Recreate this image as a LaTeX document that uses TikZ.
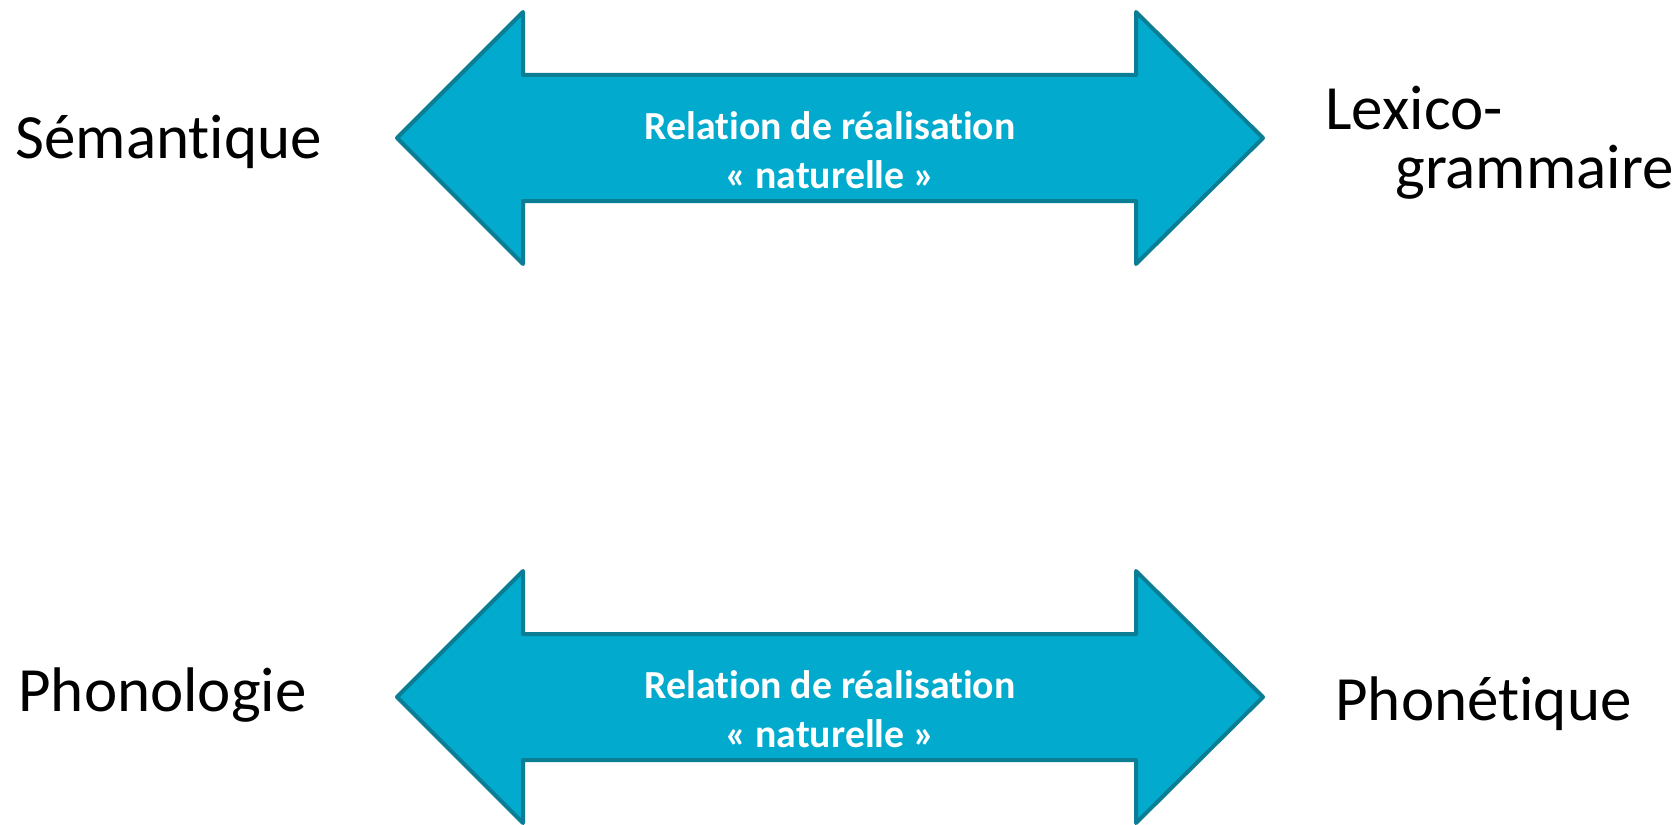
\documentclass[tikz,border=0pt]{standalone}
\usepackage{fontspec}
\setmainfont{Carlito}[Ligatures=NoCommon]
\usetikzlibrary{positioning}
\definecolor{arrow-fill}{HTML}{02ABCD}
\definecolor{arrow-edge}{HTML}{0B7E95}
\tikzset{
  relation-arrow/.style={fill=arrow-fill, draw=arrow-edge, line width=2pt, line join=round},
  relation-text/.style={align=center, anchor=base, text=white, font=\fontsize{19.9}{24.5}\selectfont\bfseries, inner sep=0pt},
  level-label/.style={anchor=base west, inner sep=0pt, font=\fontsize{31.5}{29}\selectfont},
}
\newcommand{\tikzrealisation}[2]{%
% double arrow centred at height #2
\draw[relation-arrow] (397,#2) -- (523,#2-126) -- (523,#2-63) -- (1136,#2-63) -- (1136,#2-126)
  -- (1263,#2) -- (1136,#2+126) -- (1136,#2+63) -- (523,#2+63) -- (523,#2+126) -- cycle;
\node[relation-text] (#1) at (830,#2+50) {Relation de réalisation\\« naturelle »};
}

\begin{document}
\begin{tikzpicture}[x=0.5pt, y=-0.5pt]
\useasboundingbox (0,0) rectangle (1680,824);
\tikzrealisation{rel-top}{138}
\tikzrealisation{rel-bottom}{697}
% strata
\node[level-label] (semantique) at (15,158) {Sémantique};
\node[level-label, align=left] (lexicogram) at (1325,188) {Lexico-\\\hspace*{35pt}grammaire};
\node[level-label] (phonologie) at (18,711) {Phonologie};
\node[level-label] (phonetique) at (1335,720) {Phonétique};
\end{tikzpicture}
\end{document}
